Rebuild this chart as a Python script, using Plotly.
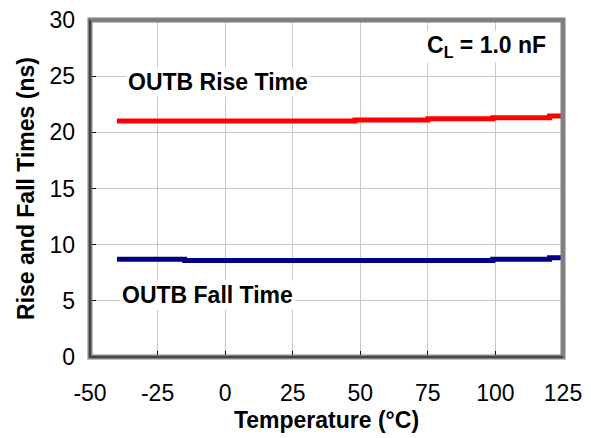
import plotly.graph_objects as go

# Data
rise_temp = [-40, -15, 0, 25, 48, 75, 99, 120, 125]
rise_ns = [21.0, 21.0, 21.0, 21.0, 21.1, 21.2, 21.3, 21.45, 21.45]
fall_temp = [-40, -15, 0, 25, 50, 75, 99, 120, 125]
fall_ns = [8.7, 8.58, 8.58, 8.58, 8.58, 8.58, 8.7, 8.84, 8.84]

x_ticks = [-50, -25, 0, 25, 50, 75, 100, 125]
x_labels = ["-50", "-25", "0", "25", "50", "75", "100", "125"]
y_ticks = [0, 5, 10, 15, 20, 25, 30]
y_labels = ["0", "5", "10", "15", "20", "25", "30"]

fig = go.Figure()
fig.add_trace(go.Scatter(x=rise_temp, y=rise_ns, mode="lines", line_shape="hv",
                         line=dict(color="#ff0000", width=5), showlegend=False))
fig.add_trace(go.Scatter(x=fall_temp, y=fall_ns, mode="lines", line_shape="hv",
                         line=dict(color="#000080", width=5), showlegend=False))

fig.update_layout(
    width=591, height=438,
    margin=dict(l=82, r=36, t=12, b=89),
    paper_bgcolor="white", plot_bgcolor="white",
    font=dict(family="Arial, Liberation Sans, sans-serif", color="black"),
    xaxis=dict(range=[-50, 125], tickvals=x_ticks, ticktext=x_labels,
               ticks="inside", ticklen=6, tickcolor="black",
               showgrid=True, gridcolor="#c8c8c8", gridwidth=1,
               zeroline=False, showline=False, tickfont=dict(size=23),
               ticklabelstandoff=20, ticklabeloverflow="allow", automargin=False,
               title=dict(text="<b>Temperature (°C)</b>", font=dict(size=23), standoff=6)),
    yaxis=dict(range=[0, 30], tickvals=y_ticks, ticktext=y_labels,
               ticks="inside", ticklen=6, tickcolor="black",
               showgrid=True, gridcolor="#c8c8c8", gridwidth=1,
               zeroline=False, showline=False, tickfont=dict(size=23),
               ticklabelstandoff=14, ticklabeloverflow="allow", automargin=False,
               title=dict(text="<b>Rise and Fall Times (ns)</b>", font=dict(size=23), standoff=8)),
    shapes=[
        dict(type="rect", xref="paper", yref="paper", x0=0, x1=1, y0=0, y1=1,
             line=dict(color="#808080", width=5), layer="above"),
        dict(type="line", xref="paper", yref="paper", x0=0, x1=0, y0=0, y1=1,
             line=dict(color="#303030", width=1.5), layer="above"),
        dict(type="line", xref="paper", yref="paper", x0=0, x1=1, y0=0, y1=0,
             line=dict(color="#303030", width=1.5), layer="above"),
    ],
    annotations=[
        dict(x=-36.5, y=24.5, xref="x", yref="y", xanchor="left", yanchor="middle",
             text="<b>OUTB Rise Time</b>", showarrow=False, bgcolor="white",
             font=dict(size=23)),
        dict(x=-39, y=5.5, xref="x", yref="y", xanchor="left", yanchor="middle",
             text="<b>OUTB Fall Time</b>", showarrow=False, bgcolor="white",
             font=dict(size=23)),
        dict(x=119.5, y=27.6, xref="x", yref="y", xanchor="right", yanchor="middle",
             text="<b>C<sub>L</sub> = 1.0 nF</b>", showarrow=False, bgcolor="white",
             font=dict(size=23)),
    ],
)

fig.write_html("out.html")
